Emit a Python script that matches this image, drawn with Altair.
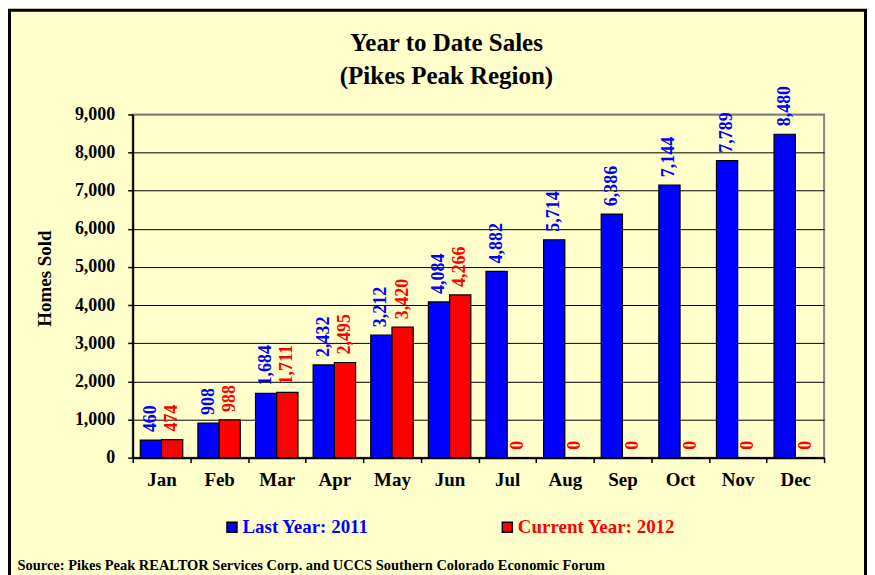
import altair as alt
import pandas as pd

months = ["Jan", "Feb", "Mar", "Apr", "May", "Jun", "Jul", "Aug", "Sep", "Oct", "Nov", "Dec"]
last_year = [460, 908, 1684, 2432, 3212, 4084, 4882, 5714, 6386, 7144, 7789, 8480]
current_year = [474, 988, 1711, 2495, 3420, 4266, 0, 0, 0, 0, 0, 0]
series_names = ["Last Year: 2011", "Current Year: 2012"]
series_colors = ["#0000FF", "#FF0000"]

rows = []
for m, a, b in zip(months, last_year, current_year):
    rows.append({"month": m, "series": series_names[0], "value": a})
    rows.append({"month": m, "series": series_names[1], "value": b})
df = pd.DataFrame(rows)

FONT = "Liberation Serif"
W, H = 693, 344
PL, PT, PR = 125, 106, 43
PB = 132

x = alt.X("month:N", sort=months, title="Source: Pikes Peak REALTOR Services Corp. and UCCS Southern Colorado Economic Forum",
          scale=alt.Scale(paddingInner=0, paddingOuter=0),
          axis=alt.Axis(labelAngle=0, tickBand="extent", tickSize=5, tickColor="black", tickWidth=1.5,
                        domainColor="black", domainWidth=2, labelFont=FONT, labelFontSize=19,
                        labelFontWeight="bold", labelColor="black", labelPadding=8,
                        titleFont=FONT, titleFontSize=14.5, titleFontWeight="bold", titleColor="black",
                        titleAnchor="start", titleAlign="left", titleX=-116, titleY=112,
                        titleBaseline="alphabetic", grid=False))
xo = alt.XOffset("series:N", sort=series_names, scale=alt.Scale(paddingOuter=0.357, paddingInner=0))
y = alt.Y("value:Q", title="Homes Sold",
          scale=alt.Scale(domain=[0, 9000], nice=False),
          axis=alt.Axis(values=list(range(0, 9001, 1000)), format=",.0f", tickSize=5, tickColor="black",
                        tickWidth=1.5, domainColor="black", domainWidth=2, labelOverlap=False,
                        gridColor=alt.ExprRef("datum.value >= 9000 ? '#777777' : '#000000'"),
                        gridWidth=1, grid=True,
                        labelFont=FONT, labelFontSize=18, labelFontWeight="bold", labelColor="black",
                        labelPadding=13, titleFont=FONT, titleFontSize=19, titleFontWeight="bold",
                        titleColor="black", titleX=-88, titleY=164, titleAngle=270,
                        titleAlign="center", titleBaseline="middle"))
fill = alt.Fill("series:N", sort=series_names,
                scale=alt.Scale(domain=series_names, range=series_colors),
                legend=alt.Legend(title=None, orient="none", legendX=90, legendY=404,
                                  direction="horizontal", columnPadding=129, labelOffset=1,
                                  symbolType="square", symbolSize=100, symbolStrokeColor="black",
                                  symbolStrokeWidth=1.5, labelFont=FONT, labelFontSize=19,
                                  labelFontWeight="bold", padding=0,
                                  labelColor=alt.ExprRef("datum.label == 'Last Year: 2011' ? '#0000FF' : '#FF0000'")))

bars = alt.Chart(df).mark_bar(stroke="black", strokeWidth=1.2).encode(x=x, xOffset=xo, y=y, fill=fill)

labels = alt.Chart(df).mark_text(angle=270, align="left", baseline="middle", dx=8,
                                 font=FONT, fontSize=18, fontWeight="bold").encode(
    x=x,
    xOffset=xo,
    y=y,
    text=alt.Text("value:Q", format=","),
    color=alt.Color("series:N", sort=series_names,
                    scale=alt.Scale(domain=series_names, range=series_colors), legend=None),
)

frame_df = pd.DataFrame({"frame": [0]})
frame = alt.Chart(frame_df).mark_rect(filled=False, stroke="black", strokeWidth=3).encode(
    x=alt.value(-PL + 1.5), x2=alt.value(W + PR - 1.5),
    y=alt.value(-PT + 1.5), y2=alt.value(H + PB - 1.5))

chart = alt.layer(bars, labels, frame).properties(
    width=W, height=H,
    title=alt.Title(["Year to Date Sales", "(Pikes Peak Region)"], font=FONT, fontSize=25,
                    fontWeight="bold", color="black", lineHeight=33, anchor="middle",
                    frame="group", dx=-32, offset=-80),
    autosize=alt.AutoSizeParams(type="none"),
    padding={"left": PL, "top": PT, "right": PR, "bottom": PB},
    background="#FFFFCC",
).configure_view(stroke="#888888", strokeWidth=2)

chart.save("out.html", embed_options={"renderer": "svg", "actions": False})
